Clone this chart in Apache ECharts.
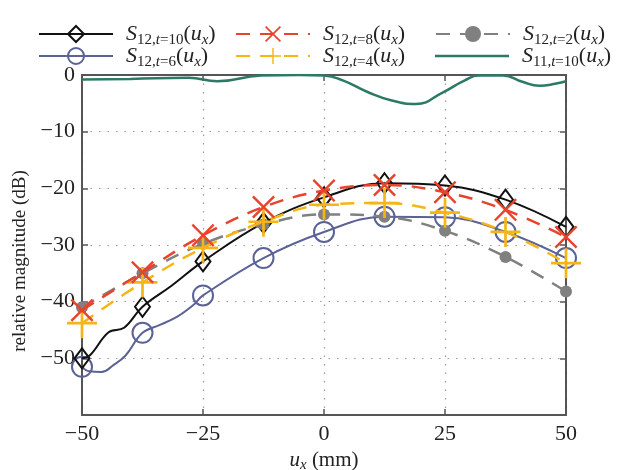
<!DOCTYPE html>
<html>
<head>
<meta charset="utf-8">
<script src="https://cdn.jsdelivr.net/npm/echarts@6/dist/echarts.min.js"></script>
<style>
  html, body { margin: 0; padding: 0; background: #fff; }
</style>
</head>
<body>
<div id="main" style="width:624px; height:470px;"></div>
<script>
// x positions of the markers (mm)
const uxMarks = [-50, -37.5, -25, -12.5, 0, 12.5, 25, 37.5, 50];

// marker values (dB)
const s12t10 = [-50, -40.9, -32.9, -26.1, -21.6, -19.1, -19.5, -22, -26.8];
const s12t8 = [-41.5, -34.8, -28.3, -23.3, -20.4, -19.4, -20.7, -23.8, -28.6];
const s12t2 = [-41, -35, -29.8, -26.4, -24.6, -25, -27.5, -32.1, -38.2];
const s12t6 = [-51.5, -45.5, -38.9, -32.3, -27.7, -25, -25.1, -27.7, -32.3];
const s12t4 = [-43.8, -36.6, -30.5, -25.9, -22.9, -22.6, -24.3, -27.7, -33.2];

// extra points along the curves where they wiggle between markers
const s12t10Extra = [[-48.3, -49.4], [-44.5, -45.4], [-41.3, -44.6], [-31.5, -37.2]];
const s12t6Extra = [[-48.5, -52.3], [-46, -52.4], [-43.5, -51.2], [-41, -49.5], [-33.9, -44.1], [-30.4, -42.7], [-27, -40.6]];

// S11 curve (no markers)
const s11Ux = [-50, -40, -28, -22, -13, -5, 0, 4, 9, 14, 19, 24.5, 29, 32, 37, 41, 44.5, 48, 50];
const s11 = [-0.8, -0.7, -0.5, -1.1, -0.1, 0, -0.1, -1, -3, -4.5, -5.1, -3.1, -1, -0.1, -0.1, -1.2, -1.9, -1.5, -1.1];

const xTicks = [-50, -25, 0, 25, 50];
const yTicks = [0, -10, -20, -30, -40, -50];

const SERIF = 'Liberation Serif';
const X_PATH = 'path://M0,0.75L0.75,0L5,4.25L9.25,0L10,0.75L5.75,5L10,9.25L9.25,10L5,5.75L0.75,10L0,9.25L4.25,5Z';
const PLUS_PATH = 'path://M4.55,0H5.45V4.55H10V5.45H5.45V10H4.55V5.45H0V4.55H4.55Z';

function withMarkers(marks, extra) {
  const pts = uxMarks.map((x, i) => ({ value: [x, marks[i]] }));
  (extra || []).forEach(p => pts.push({ value: p, symbol: 'none' }));
  pts.sort((a, b) => a.value[0] - b.value[0]);
  return pts;
}

function minus(v) {
  return String(v).replace('-', '\u2212');
}

const rich = {
  s: { fontFamily: SERIF, fontStyle: 'italic', fontSize: 22, color: '#222' },
  n: { fontFamily: SERIF, fontSize: 22, color: '#222' },
  b: { fontFamily: SERIF, fontSize: 15, color: '#222', padding: [12, 0, 0, 0] },
  bi: { fontFamily: SERIF, fontStyle: 'italic', fontSize: 15, color: '#222', padding: [12, 0, 0, 0] }
};

function label(a, t) {
  return '{s|S}{b|' + a + ',}{bi|t}{b|=' + t + '}{n|(}{s|u}{bi|x}{n|)}';
}

const names = {
  t10: label('12', '10'),
  t8: label('12', '8'),
  t2: label('12', '2'),
  t6: label('12', '6'),
  t4: label('12', '4'),
  s11: label('11', '10')
};

function legendAt(name, left, top, extra) {
  return Object.assign({
    data: [name],
    left: left,
    top: top,
    itemWidth: 74,
    itemHeight: 20,
    selectedMode: false,
    formatter: n => names[n],
    textStyle: { rich: rich, padding: [0, 0, 0, 8] }
  }, extra || {});
}

const chart = echarts.init(document.getElementById('main'));

const axisLine = { show: true, onZero: false, lineStyle: { color: '#555', width: 2 } };
const axisTick = { show: true, inside: true, length: 6, lineStyle: { color: '#555', width: 1.5 } };
const dotted = { show: true, lineStyle: { color: '#999', type: [1.5, 7], width: 1.2 } };

chart.setOption({
  animation: false,
  backgroundColor: '#fff',
  grid: { left: 82, right: 58, top: 75, bottom: 55, outerBoundsMode: 'none' },
  legend: [
    legendAt('t10', 33, 18),
    legendAt('t8', 230, 18),
    legendAt('t2', 430, 18),
    legendAt('t6', 33, 40),
    legendAt('t4', 230, 40),
    legendAt('s11', 430, 40, { data: [{ name: 's11', icon: 'rect' }], itemHeight: 2.5 })
  ],
  // y axis title, placed by hand like the reference
  graphic: [{
    type: 'text', x: 20, y: 261, rotation: Math.PI / 2,
    style: {
      text: 'relative magnitude (dB)', fontFamily: SERIF, fontSize: 19, fill: '#222',
      align: 'center', verticalAlign: 'middle'
    }
  }],
  xAxis: [
    {
      type: 'value', min: -50, max: 50, interval: 25, position: 'bottom',
      axisLine: axisLine, axisTick: axisTick, splitLine: dotted,
      axisLabel: { fontFamily: SERIF, fontSize: 22, color: '#222', margin: 8, formatter: v => xTicks.includes(v) ? minus(v) : '' },
      name: '{u|u}{x|x}{n| (mm)}', nameLocation: 'middle', nameGap: 33,
      nameTextStyle: { rich: {
        u: { fontFamily: SERIF, fontStyle: 'italic', fontSize: 21, color: '#222' },
        x: { fontFamily: SERIF, fontStyle: 'italic', fontSize: 15, color: '#222', padding: [10, 0, 0, 0] },
        n: { fontFamily: SERIF, fontSize: 21, color: '#222' }
      } }
    },
    {
      type: 'value', min: -50, max: 50, interval: 25, position: 'top',
      axisLine: axisLine, axisTick: axisTick, axisLabel: { show: false }, splitLine: { show: false }
    }
  ],
  yAxis: [
    {
      type: 'value', min: -60, max: 0, interval: 10, position: 'left',
      axisLine: axisLine, axisTick: axisTick, splitLine: dotted,
      axisLabel: { fontFamily: SERIF, fontSize: 22, color: '#222', margin: 7, formatter: v => yTicks.includes(v) ? minus(v) : '' }
    },
    {
      type: 'value', min: -60, max: 0, interval: 10, position: 'right',
      axisLine: axisLine, axisTick: axisTick, axisLabel: { show: false }, splitLine: { show: false }
    }
  ],
  series: [
    {
      name: 's11', type: 'line', smooth: 0.5, symbol: 'none', z: 2,
      data: s11Ux.map((x, i) => [x, s11[i]]),
      lineStyle: { color: '#2c7a66', width: 2.5 },
      itemStyle: { color: '#2c7a66' }
    },
    {
      name: 't6', type: 'line', smooth: 0.4, z: 3,
      data: withMarkers(s12t6, s12t6Extra),
      symbol: 'circle', symbolSize: 20,
      lineStyle: { color: '#5b6396', width: 2 },
      itemStyle: { color: 'rgba(0,0,0,0)', borderColor: '#5b6396', borderWidth: 2 }
    },
    {
      name: 't10', type: 'line', smooth: 0.4, z: 4,
      data: withMarkers(s12t10, s12t10Extra),
      symbol: 'diamond', symbolSize: [15, 20],
      lineStyle: { color: '#111', width: 2 },
      itemStyle: { color: 'rgba(0,0,0,0)', borderColor: '#111', borderWidth: 2 }
    },
    {
      name: 't2', type: 'line', smooth: 0.4, z: 5,
      data: withMarkers(s12t2),
      symbol: 'circle', symbolSize: 12,
      lineStyle: { color: '#808080', width: 2.5, type: [14, 10] },
      itemStyle: { color: '#808080' }
    },
    {
      name: 't4', type: 'line', smooth: 0.4, z: 6,
      data: withMarkers(s12t4),
      symbol: PLUS_PATH, symbolSize: 30,
      lineStyle: { color: '#f6b517', width: 2.5, type: [14, 10] },
      itemStyle: { color: '#f6b517' }
    },
    {
      name: 't8', type: 'line', smooth: 0.4, z: 7,
      data: withMarkers(s12t8),
      symbol: X_PATH, symbolSize: 23,
      lineStyle: { color: '#e8432d', width: 2.5, type: [14, 10] },
      itemStyle: { color: '#e8432d' }
    }
  ]
});
</script>
</body>
</html>
